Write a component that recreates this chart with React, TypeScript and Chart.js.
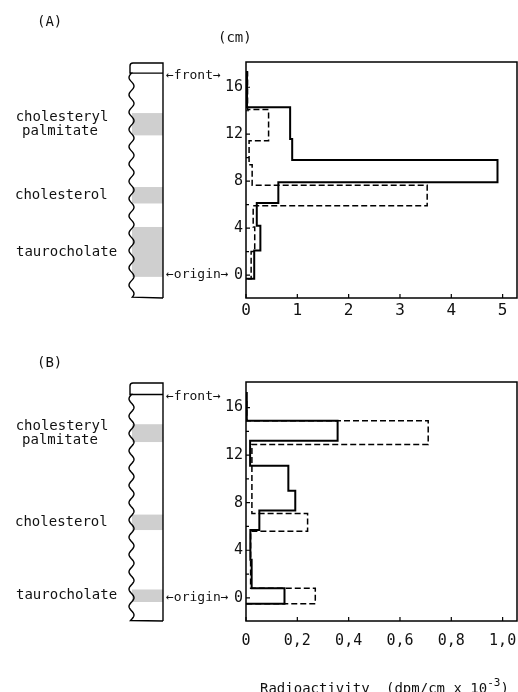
import React, { useEffect, useRef } from "react";
import { Chart, registerables } from "chart.js";

Chart.register(...registerables);

// ---------- data ----------
// Panel A histogram outlines: bin edges (cm, top->bottom) and radioactivity per bin
const aSolidEdges = [17.3, 14.3, 11.6, 9.8, 7.9, 6.15, 4.2, 2.1, -0.3];
const aSolidValues = [0.02, 0.86, 0.9, 4.9, 0.63, 0.21, 0.28, 0.16];
const aDashedEdges = [17.3, 14.1, 11.45, 9.4, 7.65, 5.9, 4.1, 2.0, -0.3];
const aDashedValues = [0.03, 0.44, 0.06, 0.12, 3.53, 0.14, 0.17, 0.1];

// Panel B
const bSolidEdges = [17.3, 14.9, 13.2, 11.1, 9.0, 7.35, 5.7, 3.2, 0.8, -0.5];
const bSolidValues = [0.003, 0.357, 0.016, 0.165, 0.192, 0.052, 0.017, 0.022, 0.15];
const bDashedEdges = [16.5, 14.9, 12.9, 7.1, 5.6, 0.8, -0.5];
const bDashedValues = [0.003, 0.71, 0.023, 0.24, 0.018, 0.27];

// axes
const yMin = -1.95;
const yMax = 18.15;
const yMajorTicks = [0, 4, 8, 12, 16];
const yMinorTicks = [2, 6, 10, 14];
const xTicksA = [0, 1, 2, 3, 4, 5];
const xMaxA = 5.28;
const xTicksB = [0, 0.2, 0.4, 0.6, 0.8, 1.0];
const xMaxB = 1.056;

// TLC plate (cm positions)
const frontA = 17.2;
const frontB = 17.1;
const bandNames = ["cholesteryl palmitate", "cholesterol", "taurocholate"];
const bandsA = [[13.8, 11.9], [7.5, 6.1], [4.1, -0.15]];
const bandsB = [[14.6, 13.1], [7.0, 5.7], [0.7, -0.35]];

const MONO = "'DejaVu Sans Mono', 'Liberation Mono', monospace";

function outline(edges: number[], vals: number[]) {
  const pts: { x: number; y: number }[] = [{ x: 0, y: edges[0] }];
  vals.forEach((v, i) => {
    pts.push({ x: v, y: edges[i] });
    pts.push({ x: v, y: edges[i + 1] });
  });
  pts.push({ x: 0, y: edges[edges.length - 1] });
  return pts;
}

type PanelProps = {
  top: number;
  height: number;
  padTop: number;
  xAxisH: number;
  xTickPad: number;
  xFont: number;
  solid: { x: number; y: number }[];
  dashed: { x: number; y: number }[];
  xMax: number;
  xTicks: number[];
  fmt: (v: number) => string;
  letter: string;
  letterY: number;
  showCm: boolean;
  front: number;
  bands: number[][];
  showTitle: boolean;
};

function Panel(p: PanelProps) {
  const ref = useRef<HTMLCanvasElement | null>(null);
  useEffect(() => {
    if (!ref.current) return;
    const decor = {
      id: "decor",
      afterDraw(chart: any) {
        const { ctx, chartArea: ca } = chart;
        const x = chart.scales.x;
        const y = chart.scales.y;
        ctx.save();
        ctx.strokeStyle = "#000";
        ctx.fillStyle = "#111";
        // plot box
        ctx.lineWidth = 1.5;
        ctx.strokeRect(ca.left, ca.top, ca.right - ca.left, ca.bottom - ca.top);
        // inward ticks
        ctx.lineWidth = 1.2;
        ctx.beginPath();
        yMajorTicks.forEach((v) => {
          const py = y.getPixelForValue(v);
          ctx.moveTo(ca.left, py);
          ctx.lineTo(ca.left + 4, py);
        });
        yMinorTicks.forEach((v) => {
          const py = y.getPixelForValue(v);
          ctx.moveTo(ca.left, py);
          ctx.lineTo(ca.left + 3, py);
        });
        p.xTicks.forEach((v) => {
          const px = x.getPixelForValue(v);
          ctx.moveTo(px, ca.bottom);
          ctx.lineTo(px, ca.bottom - 4);
        });
        ctx.stroke();

        // ---- TLC plate ----
        const pl = 130;
        const pr = 163;
        const top = ca.top + 1;
        const bottom = ca.bottom;
        const fy = y.getPixelForValue(p.front);
        ctx.fillStyle = "#cfcfcf";
        p.bands.forEach(([b0, b1]) => {
          const y0 = y.getPixelForValue(b0);
          const y1 = y.getPixelForValue(b1);
          ctx.fillRect(pl + 2, y0, pr - pl - 2, y1 - y0);
        });
        ctx.lineWidth = 1.4;
        ctx.beginPath();
        ctx.moveTo(pr, bottom);
        ctx.lineTo(pr, top);
        ctx.lineTo(pl + 3, top);
        ctx.quadraticCurveTo(pl, top, pl, top + 3);
        ctx.lineTo(pl, fy);
        const period = 17.3;
        for (let yy = fy; yy <= bottom; yy += 1) {
          const xx = pl + 1.5 - 2.5 * Math.sin((2 * Math.PI * (yy - fy)) / period);
          ctx.lineTo(xx, yy);
        }
        ctx.lineTo(pr, bottom);
        ctx.stroke();
        ctx.beginPath();
        ctx.moveTo(pl, fy);
        ctx.lineTo(pr, fy);
        ctx.stroke();

        // ---- texts ----
        ctx.fillStyle = "#111";
        ctx.textBaseline = "middle";
        ctx.font = `14px ${MONO}`;
        ctx.textAlign = "left";
        ctx.fillText(p.letter, 37, p.letterY);
        if (p.showCm) ctx.fillText("(cm)", 218, 38);
        ctx.font = `13px ${MONO}`;
        ctx.fillText("\u2190front\u2192", 166, fy + 2);
        ctx.fillText("\u2190origin\u2192", 166, y.getPixelForValue(0));
        ctx.font = `14px ${MONO}`;
        const m0 = (y.getPixelForValue(p.bands[0][0]) + y.getPixelForValue(p.bands[0][1])) / 2;
        ctx.textAlign = "center";
        ctx.fillText(bandNames[0].split(" ")[0], 62, m0 - 7);
        ctx.fillText(bandNames[0].split(" ")[1], 60, m0 + 7);
        ctx.textAlign = "left";
        const m1 = (y.getPixelForValue(p.bands[1][0]) + y.getPixelForValue(p.bands[1][1])) / 2;
        ctx.fillText(bandNames[1], 15, m1);
        const m2 = (y.getPixelForValue(p.bands[2][0]) + y.getPixelForValue(p.bands[2][1])) / 2;
        ctx.fillText(bandNames[2], 16, m2);

        if (p.showTitle) {
          ctx.textBaseline = "alphabetic";
          ctx.font = `14px ${MONO}`;
          const by = chart.height + 1;
          ctx.fillText("Radioactivity", 260, by);
          const s1 = "(dpm/cm x 10";
          ctx.fillText(s1, 386, by);
          let cx = 386 + ctx.measureText(s1).width;
          ctx.font = `11px ${MONO}`;
          ctx.fillText("-3", cx, by - 7);
          cx += ctx.measureText("-3").width;
          ctx.font = `14px ${MONO}`;
          ctx.fillText(")", cx, by);
        }
        ctx.restore();
      },
    };

    const chart = new Chart(ref.current, {
      type: "scatter",
      data: {
        datasets: [
          {
            data: p.solid,
            showLine: true,
            borderColor: "#000",
            borderWidth: 2,
            pointRadius: 0,
            fill: false,
          },
          {
            data: p.dashed,
            showLine: true,
            borderColor: "#000",
            borderWidth: 1.5,
            borderDash: [6, 3],
            pointRadius: 0,
            fill: false,
          },
        ],
      },
      options: {
        animation: false,
        responsive: false,
        layout: { padding: { top: p.padTop, right: 1, left: 0, bottom: 0 } },
        plugins: { legend: { display: false }, tooltip: { enabled: false } },
        scales: {
          x: {
            type: "linear",
            min: 0,
            max: p.xMax,
            afterBuildTicks: (s: any) => {
              s.ticks = p.xTicks.map((v) => ({ value: v }));
            },
            afterFit: (s: any) => {
              s.height = p.xAxisH;
              s.paddingLeft = 0;
              s.paddingRight = 0;
              s.paddingTop = 0;
              s.paddingBottom = 0;
            },
            ticks: {
              color: "#111",
              font: { family: MONO, size: p.xFont },
              padding: p.xTickPad,
              maxRotation: 0,
              autoSkip: false,
              callback: (v: any) => p.fmt(Number(v)),
            },
            grid: { display: false, drawTicks: false },
            border: { display: false },
          },
          y: {
            type: "linear",
            min: yMin,
            max: yMax,
            afterBuildTicks: (s: any) => {
              s.ticks = yMajorTicks.map((v) => ({ value: v }));
            },
            afterFit: (s: any) => {
              s.width = 246;
              s.paddingTop = 0;
              s.paddingBottom = 0;
              s.paddingLeft = 0;
              s.paddingRight = 0;
            },
            ticks: {
              color: "#111",
              font: { family: MONO, size: 15 },
              padding: 3,
              autoSkip: false,
            },
            grid: { display: false, drawTicks: false },
            border: { display: false },
          },
        },
      },
      plugins: [decor],
    } as any);
    return () => chart.destroy();
  }, []);
  return (
    <canvas
      ref={ref}
      width={518}
      height={p.height}
      style={{ position: "absolute", left: 0, top: p.top, width: 518, height: p.height, display: "block" }}
    />
  );
}

export default function App() {
  return (
    <div style={{ position: "absolute", left: 0, top: 0, width: 518, height: 692, background: "#fff", overflow: "hidden" }}>
      <Panel
        top={0}
        height={330}
        padTop={62}
        xAxisH={32}
        xTickPad={3}
        xFont={16}
        solid={outline(aSolidEdges, aSolidValues)}
        dashed={outline(aDashedEdges, aDashedValues)}
        xMax={xMaxA}
        xTicks={xTicksA}
        fmt={(v) => String(v)}
        letter="(A)"
        letterY={22}
        showCm={true}
        front={frontA}
        bands={bandsA}
        showTitle={false}
      />
      <Panel
        top={330}
        height={362}
        padTop={52}
        xAxisH={71}
        xTickPad={11}
        xFont={15}
        solid={outline(bSolidEdges, bSolidValues)}
        dashed={outline(bDashedEdges, bDashedValues)}
        xMax={xMaxB}
        xTicks={xTicksB}
        fmt={(v) => (v === 0 ? "0" : v.toFixed(1).replace(".", ","))}
        letter="(B)"
        letterY={33}
        showCm={false}
        front={frontB}
        bands={bandsB}
        showTitle={true}
      />
    </div>
  );
}
